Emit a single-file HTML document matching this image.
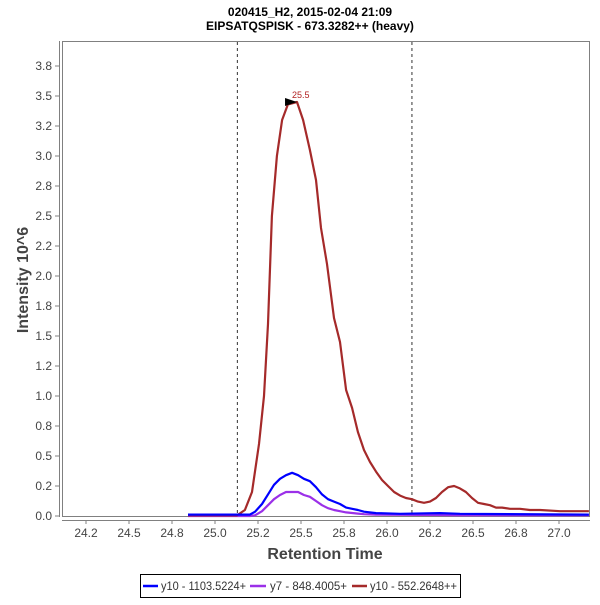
<!DOCTYPE html>
<html><head><meta charset="utf-8"><style>
body{margin:0;background:#fff;font-family:"Liberation Sans",sans-serif}
</style></head><body>
<svg id="chart" width="600" height="600" xmlns="http://www.w3.org/2000/svg" font-family="Liberation Sans, sans-serif">
<rect width="600" height="600" fill="#fff"/>
<text x="310" y="16" text-anchor="middle" font-size="12" font-weight="bold">020415_H2, 2015-02-04 21:09</text>
<text x="310" y="30" text-anchor="middle" font-size="12" font-weight="bold">EIPSATQSPISK - 673.3282++ (heavy)</text>
<rect x="62.5" y="41.5" width="527" height="475" fill="none" stroke="#808080"/>
<line x1="59.5" y1="41" x2="59.5" y2="517" stroke="#808080"/>
<line x1="62" y1="520.5" x2="590" y2="520.5" stroke="#808080"/>
<g id="yt"></g><g id="xt"></g><g id="marks"></g>
<text x="325" y="559" text-anchor="middle" font-size="16" font-weight="bold" fill="#444">Retention Time</text>
<text transform="translate(28,280) rotate(-90)" text-anchor="middle" font-size="16" font-weight="bold" fill="#444">Intensity 10^6</text>
<g>
<rect x="140.5" y="574.5" width="320" height="23" fill="#fff" stroke="#000"/>
<line x1="143" y1="586" x2="158" y2="586" stroke="#0000ff" stroke-width="2.5"/>
<text x="161" y="590" font-size="12" fill="#333" textLength="85" lengthAdjust="spacingAndGlyphs">y10 - 1103.5224+</text>
<line x1="250" y1="586" x2="266" y2="586" stroke="#9b30e8" stroke-width="2.5"/>
<text x="270" y="590" font-size="12" fill="#333" textLength="77" lengthAdjust="spacingAndGlyphs">y7 - 848.4005+</text>
<line x1="352" y1="586" x2="367" y2="586" stroke="#a52a2a" stroke-width="2.5"/>
<text x="370" y="590" font-size="12" fill="#333" textLength="87" lengthAdjust="spacingAndGlyphs">y10 - 552.2648++</text>
</g>
</svg>
<script>
const yTicks=[0,0.25,0.5,0.75,1.0,1.25,1.5,1.75,2.0,2.25,2.5,2.75,3.0,3.25,3.5,3.75];
const yLabels=["0.0","0.2","0.5","0.8","1.0","1.2","1.5","1.8","2.0","2.2","2.5","2.8","3.0","3.2","3.5","3.8"];
const xTicks=[24.25,24.5,24.75,25.0,25.25,25.5,25.75,26.0,26.25,26.5,26.75,27.0];
const xLabels=["24.2","24.5","24.8","25.0","25.2","25.5","25.8","26.0","26.2","26.5","26.8","27.0"];
const boundaries=[25.13,26.145];
const redT=[24.843,25.128,25.174,25.215,25.256,25.285,25.308,25.331,25.360,25.390,25.424,25.477,25.512,25.552,25.587,25.616,25.651,25.692,25.727,25.762,25.797,25.831,25.866,25.901,25.936,25.971,26.006,26.041,26.076,26.110,26.145,26.180,26.215,26.250,26.285,26.320,26.355,26.390,26.424,26.459,26.494,26.529,26.564,26.599,26.634,26.669,26.715,26.773,26.831,26.890,27.006,27.174];
const redV=[0.005,0.005,0.05,0.2,0.6,1.0,1.6,2.5,3.0,3.3,3.43,3.45,3.3,3.05,2.8,2.4,2.1,1.65,1.45,1.05,0.9,0.7,0.55,0.45,0.37,0.3,0.25,0.2,0.17,0.15,0.14,0.12,0.11,0.12,0.15,0.2,0.24,0.25,0.23,0.2,0.15,0.11,0.1,0.09,0.07,0.07,0.06,0.06,0.05,0.05,0.04,0.04];
const bpT=[24.843,25.203,25.233,25.273,25.308,25.343,25.378,25.413,25.448,25.483,25.517,25.552,25.587,25.622,25.657,25.692,25.727,25.762,25.797,25.831,25.866,25.936,26.076,26.308,26.424,27.174];
const blueV=[0.012,0.012,0.036,0.1,0.18,0.26,0.31,0.34,0.36,0.34,0.31,0.29,0.24,0.18,0.14,0.12,0.1,0.07,0.06,0.05,0.036,0.024,0.018,0.024,0.018,0.012];
const purpleV=[0.0,0.0,0.006,0.04,0.09,0.14,0.175,0.2,0.2,0.2,0.175,0.16,0.125,0.09,0.065,0.05,0.04,0.03,0.025,0.02,0.015,0.012,0.01,0.008,0.006,0.006];
const peakTime=25.477, peakVal=3.45, peakLabel="25.5";
const NS="http://www.w3.org/2000/svg";
function X(t){return 86+(t-24.25)*172;}
function Y(v){return 516-v*120;}
function mk(tag,attrs,parent){const e=document.createElementNS(NS,tag);for(const k in attrs)e.setAttribute(k,attrs[k]);parent.appendChild(e);return e;}
const yt=document.getElementById('yt'),xt=document.getElementById('xt'),mg=document.getElementById('marks');
yTicks.forEach((v,i)=>{
  const l=mk('line',{x1:55,x2:59,y1:Y(v),y2:Y(v),stroke:'#808080'},yt);
  
  
  const t=mk('text',{x:52,y:Y(v)+4,'text-anchor':'end','font-size':12,fill:'#444'},yt);
  
  
  t.textContent=yLabels[i];
});
xTicks.forEach((v,i)=>{
  const l=mk('line',{x1:X(v),x2:X(v),y1:520,y2:524,stroke:'#808080'},xt);
  
  
  const t=mk('text',{x:X(v),y:537,'text-anchor':'middle','font-size':12,fill:'#444'},xt);
  
  
  t.textContent=xLabels[i];
});
boundaries.forEach(b=>{
  const l=mk('line',{x1:X(b),x2:X(b),y1:42,y2:516,stroke:'#333','stroke-dasharray':'3,3'},mg);
  
  
});
function series(ts,vs,color,name){
  const d=ts.map((t,i)=>(i?'L':'M')+X(t).toFixed(1)+','+Y(vs[i]).toFixed(1)).join('');
  const p=mk('path',{d:d,fill:'none',stroke:color,'stroke-width':2.2,'stroke-linejoin':'round'},mg);
  
  
}
series(bpT,purpleV,'#9b30e8','series-y7-848');
series(redT,redV,'#a52a2a','series-y10-552');
series(bpT,blueV,'#0000ff','series-y10-1103');
const px=X(peakTime),py=Y(peakVal);
const tri=mk('path',{d:`M${px-12},${py-4}L${px},${py}L${px-12},${py+4}Z`,fill:'#000'},mg);


const pl=mk('text',{x:px-5,y:py-4,'font-size':9,fill:'#b22222'},mg);


pl.textContent=peakLabel;
</script>
</body></html>
